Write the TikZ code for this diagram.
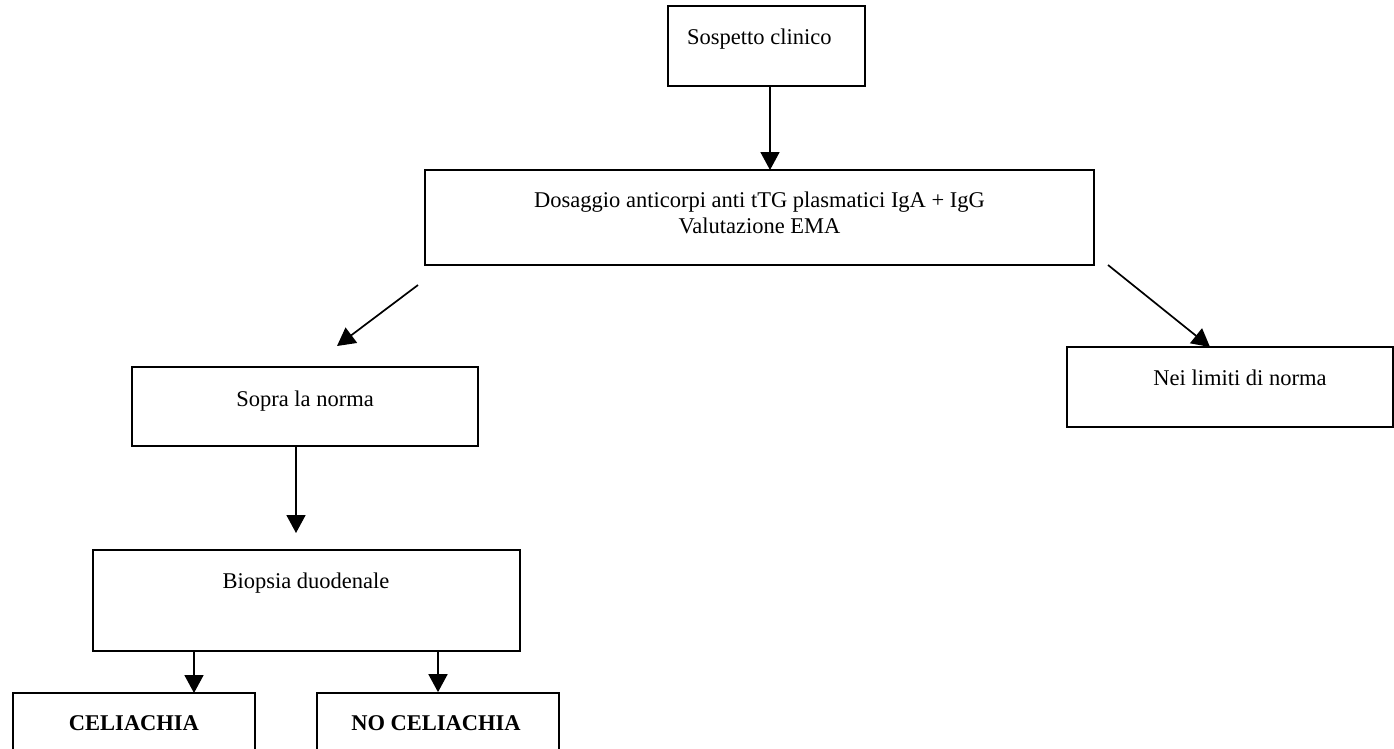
\documentclass[tikz,border=0pt]{standalone}
\usepackage{fontspec}
\setmainfont{Liberation Serif}
\usetikzlibrary{arrows.meta}
\begin{document}
\begin{tikzpicture}[x=1pt,y=-1pt]
  \useasboundingbox (0,0) rectangle (1394,748);
  \clip (0,0) rectangle (1394,748);
  \begin{scope}[every node/.style={draw=black,line width=1.7pt,rectangle,inner sep=0pt}]
  \node[minimum width=197pt,minimum height=80pt] (s) at (766.5,46) {};
  \node[minimum width=669pt,minimum height=95pt] (d) at (759.5,217.5) {};
  \node[minimum width=346pt,minimum height=79pt] (sn) at (305,406.5) {};
  \node[minimum width=326pt,minimum height=80pt] (nl) at (1230,387) {};
  \node[minimum width=427pt,minimum height=101pt] (b) at (306.5,600.5) {};
  \node[minimum width=242pt,minimum height=80pt] (c) at (134,733) {};
  \node[minimum width=242pt,minimum height=80pt] (nc) at (438,733) {};
  \end{scope}
  \begin{scope}[every node/.style={inner sep=0pt,anchor=base,font=\fontsize{22.5}{26}\selectfont}]
  \node[anchor=base west] (st) at (687,44) {Sospetto clinico};
  \node[anchor=center,align=center] (dt) at (759.5,212.5) {Dosaggio anticorpi anti tTG plasmatici IgA + IgG\\Valutazione EMA};
  \node (snt) at (305,406) {Sopra la norma};
  \node (nlt) at (1240,385) {Nei limiti di norma};
  \node (bt) at (306,588) {Biopsia duodenale};
  \node (ct) at (134,730) {\bfseries CELIACHIA};
  \node (nct) at (436,730) {\bfseries NO CELIACHIA};
  \end{scope}
  \coordinate (s1) at (770,170);
  \coordinate (d1) at (418,285);
  \coordinate (sn1) at (337,346);
  \coordinate (d2) at (1108,265);
  \coordinate (nl1) at (1210,347);
  \coordinate (b1) at (296,533);
  \coordinate (c1) at (194,693);
  \begin{scope}[every edge/.style={draw=black,line width=1.7pt,-{Triangle[length=18pt,width=19pt]}}]
  \path (s1 |- s.south) edge (s1);
  \path (d1) edge (sn1);
  \path (d2) edge (nl1);
  \path (b1 |- sn.south) edge (b1);
  \path (c1 |- b.south) edge (c1);
  \path (nc.north |- b.south) edge (nc.north);
  \end{scope}
\end{tikzpicture}
\end{document}
